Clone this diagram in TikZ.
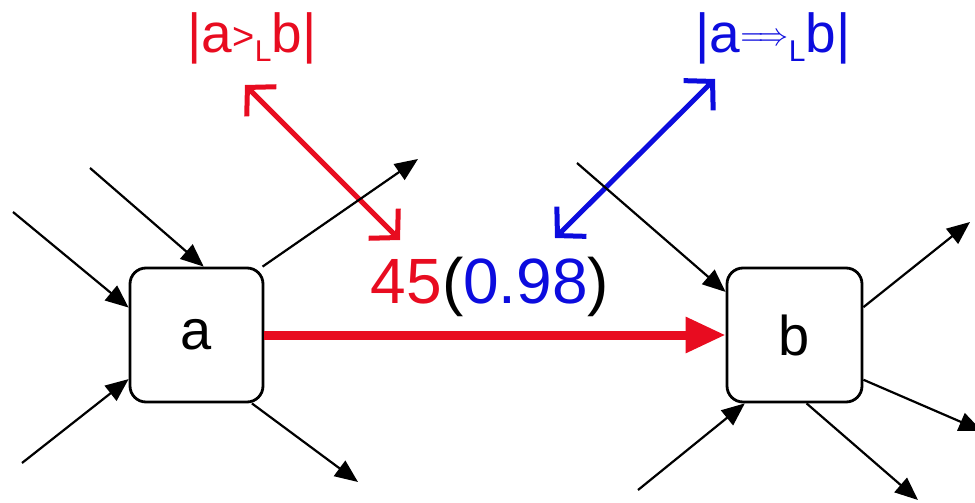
\documentclass[tikz,border=0pt]{standalone}
\usepackage{fontspec}
\setmainfont{Liberation Sans}
\usetikzlibrary{arrows.meta}
\definecolor{myred}{RGB}{232,12,32}
\definecolor{myblue}{RGB}{12,12,222}
\begin{document}
\begin{tikzpicture}[x=1pt,y=-1pt,
  box/.style={draw,line width=2.8pt,rounded corners=16pt,minimum width=133pt,minimum height=134pt,inner sep=0pt,font=\fontsize{56}{56}\selectfont},
  blk/.style={line width=2.2pt,-{Triangle[length=23pt,width=19pt]}},
  dbl/.style={line width=5pt,{Straight Barb[length=20pt,width=42pt]}-{Straight Barb[length=20pt,width=42pt]}},
  lbl/.style={font=\fontsize{55}{55}\selectfont,anchor=base,inner sep=0pt}]
\useasboundingbox (0,0) rectangle (975,503);
% boxes
\node[box] (a) at (196.5,335) {a};
\node[box,minimum width=135pt] (b) at (794.5,335) {b};
% labels
\node[lbl,text=myred] (rl) at (252,53) {|a\raisebox{3pt}{\fontsize{38}{38}\selectfont >}\raisebox{-9pt}{\fontsize{30}{30}\selectfont L}b|};
\node[lbl,text=myblue] (bl) at (773,53) {|a\raisebox{7pt}{\scalebox{3}[3.2]{\fontsize{10}{10}\selectfont$\Longrightarrow$}}\raisebox{-9pt}{\fontsize{30}{30}\selectfont L}b|};
\node[font=\fontsize{64}{64}\selectfont,anchor=base,inner sep=0pt] (val) at (490,303) {\textcolor{myred}{45}(\textcolor{myblue}{0.98})};
% main red arrow
\draw[line width=9pt,myred,-{Triangle[length=40pt,width=34pt]}] (a.east) -- (b.west);
% double arrows
\coordinate (r1) at (245,85); \coordinate (r2) at (400,240);
\draw[dbl,myred] (r1) -- (r2);
\coordinate (u1) at (715,79); \coordinate (u2) at (555,238);
\draw[dbl,myblue] (u1) -- (u2);
% black arrows around a
\coordinate (ai1) at (90,168); \draw[blk] (ai1) -- (a.84);
\coordinate (ai2) at (13,212); \draw[blk] (ai2) -- (a.158);
\coordinate (ai3) at (22,463); \draw[blk] (ai3) -- (a.213);
\coordinate (ao1) at (418,159); \draw[blk] (a.46) -- (ao1);
\coordinate (ao2) at (358,482); \draw[blk] (a.309) -- (ao2);
% black arrows around b
\coordinate (bi1) at (577,163); \draw[blk] (bi1) -- (b.148);
\coordinate (bi2) at (638,490); \draw[blk] (bi2) -- (b.234);
\coordinate (bo1) at (970,222); \draw[blk] (b.22.5) -- (bo1);
\coordinate (bo2) at (982,431); \draw[blk] (b.327.5) -- (bo2);
\coordinate (bo3) at (918,500); \draw[blk] (b.280) -- (bo3);
\end{tikzpicture}
\end{document}
